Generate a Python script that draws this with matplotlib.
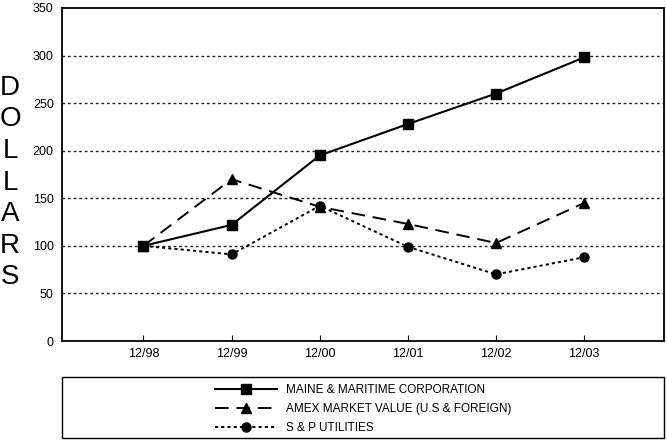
import matplotlib
matplotlib.use('Agg')
import matplotlib.pyplot as plt
from matplotlib.patches import Rectangle

plt.rcParams['font.family'] = ['Liberation Sans', 'DejaVu Sans']

# data
periods = ['12/98', '12/99', '12/00', '12/01', '12/02', '12/03']
maine = [100, 122, 195, 228, 260, 298]
amex = [100, 170, 141, 123, 103, 145]
sp_util = [100, 91, 142, 99, 70, 88]
yticks = [0, 50, 100, 150, 200, 250, 300, 350]

fig = plt.figure(figsize=(6.67, 4.4), dpi=100)
ax = fig.add_axes([0.093, 0.225, 0.9025, 0.757])

x = list(range(len(periods)))
l1, = ax.plot(x, maine, color='black', lw=1.5, linestyle='-', marker='s', ms=6.5,
              label='MAINE & MARITIME CORPORATION')
l2, = ax.plot(x, amex, color='black', lw=1.4, linestyle=(0, (7, 4)), marker='^', ms=7,
              label='AMEX MARKET VALUE (U.S & FOREIGN)')
l3, = ax.plot(x, sp_util, color='black', lw=1.4, linestyle=(0, (1.6, 1.6)), marker='o', ms=6.5,
              label='S & P UTILITIES')

ax.set_xlim(-0.924, 5.906)
ax.set_ylim(0, 350)
ax.set_yticks(yticks)
ax.set_xticks(x)
ax.set_xticklabels(periods)
ax.tick_params(axis='both', labelsize=9, color='black')
ax.tick_params(axis='x', direction='in', length=4, pad=5)
ax.tick_params(axis='y', length=0, pad=6)
for v in yticks[1:-1]:
    ax.axhline(v, color='#222222', lw=1.0, linestyle=(0, (2, 2)), zorder=0)
for s in ax.spines.values():
    s.set_linewidth(1.3)

# stacked y label
for i, ch in enumerate('DOLLARS'):
    fig.text(0.015, (440 - 88 - i * 31.5) / 440, ch, fontsize=20, ha='center', va='center')

# legend box
fig.patches.append(Rectangle((0.093, 0.0045), 0.9025, 0.139, transform=fig.transFigure,
                             fill=False, edgecolor='black', lw=1.0))
fig.legend(handles=[l1, l2, l3], loc='center', bbox_to_anchor=(0.544, 0.0705),
           frameon=False, fontsize=8.5, handlelength=5.25, labelspacing=0.6,
           handletextpad=0.75, borderpad=0)

fig.savefig('out.png', dpi=100)
